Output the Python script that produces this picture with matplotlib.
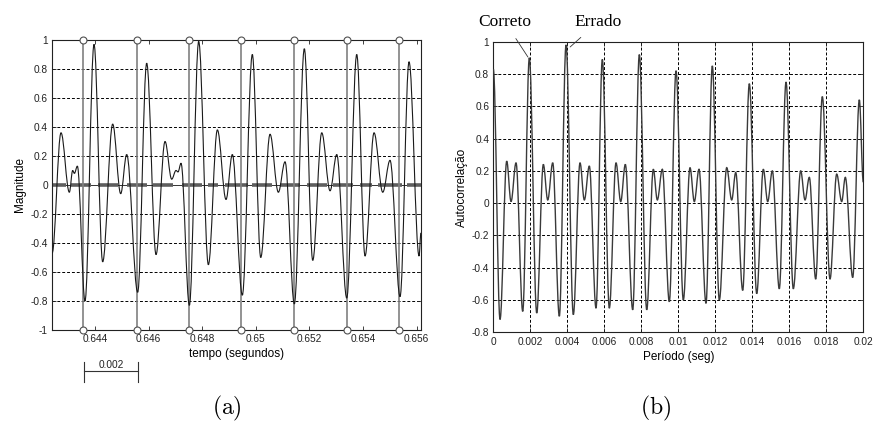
import numpy as np
import matplotlib
matplotlib.use("Agg")
from matplotlib import pyplot as plt
from matplotlib.path import Path
from matplotlib.patches import PathPatch
import matplotlib.transforms as mtransforms

plt.rcParams['font.family'] = ['Liberation Sans', 'DejaVu Sans']
plt.rcParams['mathtext.fontset'] = 'cm'

# (a) speech waveform, extrema
t_sig = [0.64240, 0.642731, 0.643042, 0.643167, 0.643230, 0.643341, 0.643627, 0.643963,
         0.644286, 0.644659, 0.644958, 0.645182, 0.645592, 0.645928, 0.646276, 0.646612,
         0.646861, 0.647022, 0.647097, 0.647209, 0.647520, 0.647868, 0.648229, 0.648565,
         0.648888, 0.649123, 0.649496, 0.649869, 0.650183, 0.650530, 0.650840, 0.651090,
         0.651437, 0.651810, 0.652123, 0.652459, 0.652769, 0.653019, 0.653392, 0.653765,
         0.654075, 0.654410, 0.654735, 0.655007, 0.655381, 0.655716, 0.656090, 0.65616]
v_sig = [-0.47, 0.36, -0.05, 0.10, 0.08, 0.13, -0.80, 0.97,
         -0.53, 0.42, -0.06, 0.21, -0.74, 0.84, -0.48, 0.30,
         0.04, 0.10, 0.09, 0.15, -0.83, 0.99, -0.55, 0.38,
         -0.10, 0.21, -0.76, 0.90, -0.50, 0.35, -0.05, 0.16,
         -0.82, 0.94, -0.52, 0.36, -0.04, 0.21, -0.78, 0.90,
         -0.49, 0.36, -0.05, 0.17, -0.77, 0.85, -0.49, -0.33]

# pitch marks
t_marks = [0.643563, 0.645578, 0.647519, 0.649448, 0.651425, 0.653414, 0.655343]

# thick segments on the zero line (start, end)
seg_start = [0.642396, 0.643104, 0.644112, 0.645194, 0.646164, 0.647246, 0.648216, 0.648851,
             0.649858, 0.650903, 0.651910, 0.652881, 0.653888, 0.654560, 0.655642]
seg_end = [0.642918, 0.643851, 0.644858, 0.645940, 0.646910, 0.647993, 0.648590, 0.649709,
           0.650604, 0.651649, 0.652657, 0.653627, 0.654336, 0.655455, 0.656164]

xt_a = [0.644, 0.646, 0.648, 0.650, 0.652, 0.654, 0.656]
xt_a_lab = ['0.644', '0.646', '0.648', '0.65', '0.652', '0.654', '0.656']
yt_a = [-1, -0.8, -0.6, -0.4, -0.2, 0, 0.2, 0.4, 0.6, 0.8, 1]
yt_a_lab = ['-1', '-0.8', '-0.6', '-0.4', '-0.2', '0', '0.2', '0.4', '0.6', '0.8', '1']

# (b) autocorrelation, extrema
t_ac = [0.0, 0.000362, 0.000724, 0.000957, 0.001227, 0.001589, 0.001946, 0.002346,
        0.002703, 0.002941, 0.003211, 0.003568, 0.003930, 0.004324, 0.004686, 0.004919,
        0.005189, 0.005551, 0.005892, 0.006270, 0.006632, 0.006886, 0.007135, 0.007535,
        0.007892, 0.008292, 0.008649, 0.008865, 0.009135, 0.009514, 0.009876, 0.010270,
        0.010632, 0.010865, 0.011119, 0.011497, 0.011838, 0.012216, 0.012616, 0.012886,
        0.013103, 0.013481, 0.013838, 0.014238, 0.014595, 0.014832, 0.015081, 0.015459,
        0.015822, 0.016216, 0.016616, 0.016849, 0.017081, 0.017427, 0.017784, 0.018200,
        0.018562, 0.018832, 0.019027, 0.019427, 0.019784, 0.020]
v_ac = [0.83, -0.72, 0.26, 0.01, 0.25, -0.67, 0.90, -0.68,
        0.24, 0.02, 0.25, -0.70, 0.98, -0.69, 0.25, 0.02,
        0.23, -0.65, 0.89, -0.65, 0.25, 0.01, 0.24, -0.66,
        0.92, -0.66, 0.21, 0.02, 0.21, -0.61, 0.82, -0.60,
        0.22, 0.01, 0.21, -0.62, 0.85, -0.60, 0.22, 0.02,
        0.19, -0.54, 0.74, -0.56, 0.21, 0.01, 0.20, -0.53,
        0.75, -0.53, 0.20, 0.02, 0.16, -0.47, 0.66, -0.47,
        0.18, 0.01, 0.16, -0.46, 0.64, 0.13]

xt_b = [0, 0.002, 0.004, 0.006, 0.008, 0.010, 0.012, 0.014, 0.016, 0.018, 0.020]
xt_b_lab = ['0', '0.002', '0.004', '0.006', '0.008', '0.01', '0.012', '0.014', '0.016', '0.018', '0.02']
yt_b = [-0.8, -0.6, -0.4, -0.2, 0, 0.2, 0.4, 0.6, 0.8, 1]
yt_b_lab = ['-0.8', '-0.6', '-0.4', '-0.2', '0', '0.2', '0.4', '0.6', '0.8', '1']


def smooth_path(t, v, k=0.36):
    # cubic bezier between extrema, flat tangents at each extremum
    verts = [(t[0], v[0])]
    codes = [Path.MOVETO]
    for i in range(len(t) - 1):
        dt = t[i + 1] - t[i]
        verts += [(t[i] + k * dt, v[i]), (t[i + 1] - k * dt, v[i + 1]), (t[i + 1], v[i + 1])]
        codes += [Path.CURVE4] * 3
    return Path(verts, codes)


def style_axes(ax):
    ax.tick_params(direction='in', length=3, width=0.6, top=True, right=True,
                   labelsize=7.3, colors='#222222', pad=3)
    for s in ax.spines.values():
        s.set_linewidth(0.8)
        s.set_color('#222222')


fig = plt.figure(figsize=(8.73, 4.21), dpi=100)

# ---- (a)
ax1 = fig.add_axes([0.0596, 0.2162, 0.4227, 0.6888])
ax1.set_xlim(0.642396, 0.656164)
ax1.set_ylim(-1, 1)
for y in yt_a[1:-1]:
    if y != 0:
        ax1.axhline(y, color='black', ls=(0, (3, 2)), lw=0.7, zorder=1)
ax1.axhline(0, color='#333333', lw=0.7, zorder=2)
ax1.hlines([0] * len(seg_start), seg_start, seg_end, color='#5e5e5e', lw=2.6, zorder=2)
ax1.vlines(t_marks, -1, 1, color='#808080', lw=1.2, zorder=3)
ax1.plot(t_marks, [1] * len(t_marks), 'o', ms=5, mfc='white', mec='#505050', mew=0.8,
         clip_on=False, zorder=5)
ax1.plot(t_marks, [-1] * len(t_marks), 'o', ms=5, mfc='white', mec='#505050', mew=0.8,
         clip_on=False, zorder=5)
ax1.add_patch(PathPatch(smooth_path(t_sig, v_sig), fc='none', ec='#1a1a1a', lw=0.8, zorder=4))
ax1.set_xticks(xt_a)
ax1.set_xticklabels(xt_a_lab)
ax1.set_yticks(yt_a)
ax1.set_yticklabels(yt_a_lab)
style_axes(ax1)
ax1.set_xlabel('tempo (segundos)', fontsize=8.5, labelpad=3)
ax1.set_ylabel('Magnitude', fontsize=8.5, labelpad=3)

# scale bar 0.002 s
tr = mtransforms.blended_transform_factory(ax1.transData, ax1.transAxes)
bar_x0, bar_len = 0.64359, 0.002
ax1.plot([bar_x0, bar_x0 + bar_len], [-0.141, -0.141], color='#333333', lw=0.8,
         transform=tr, clip_on=False)
ax1.plot([bar_x0, bar_x0], [-0.110, -0.179], color='#333333', lw=0.8, transform=tr, clip_on=False)
ax1.plot([bar_x0 + bar_len] * 2, [-0.110, -0.179], color='#333333', lw=0.8, transform=tr,
         clip_on=False)
ax1.text(bar_x0 + bar_len / 2, -0.138, '0.002', transform=tr, ha='center', va='bottom',
         fontsize=7.3, color='#222222')

# ---- (b)
ax2 = fig.add_axes([0.5651, 0.2105, 0.4238, 0.6905])
ax2.set_xlim(0, 0.02)
ax2.set_ylim(-0.8, 1)
for x in xt_b[1:-1]:
    ax2.axvline(x, color='black', ls=(0, (3, 2)), lw=0.7, zorder=1)
for y in yt_b[1:-1]:
    ax2.axhline(y, color='black', ls=(0, (3, 2)), lw=0.7, zorder=1)
ax2.add_patch(PathPatch(smooth_path(t_ac, v_ac), fc='none', ec='#3a3a3a', lw=1.0, zorder=4))
ax2.set_xticks(xt_b)
ax2.set_xticklabels(xt_b_lab)
ax2.set_yticks(yt_b)
ax2.set_yticklabels(yt_b_lab)
style_axes(ax2)
ax2.set_xlabel('Período (seg)', fontsize=8.5, labelpad=3)
ax2.set_ylabel('Autocorrelação', fontsize=8.5, labelpad=3)

ax2.annotate('Correto', xy=(0.00187, 0.905), xytext=(0.00063, 1.122),
             ha='center', va='center', fontsize=12.5, family='Liberation Serif',
             arrowprops=dict(arrowstyle='-', lw=0.6, color='#333333', shrinkA=5, shrinkB=0),
             annotation_clip=False)
ax2.annotate('Errado', xy=(0.00415, 0.967), xytext=(0.00566, 1.122),
             ha='center', va='center', fontsize=12.5, family='Liberation Serif',
             arrowprops=dict(arrowstyle='-', lw=0.6, color='#333333', shrinkA=5, shrinkB=0),
             annotation_clip=False)

fig.text(227 / 873, 1 - 408 / 421, r'$\mathrm{(a)}$', ha='center', va='center', fontsize=17)
fig.text(656 / 873, 1 - 408 / 421, r'$\mathrm{(b)}$', ha='center', va='center', fontsize=17)

fig.savefig('out.png', dpi=100)
